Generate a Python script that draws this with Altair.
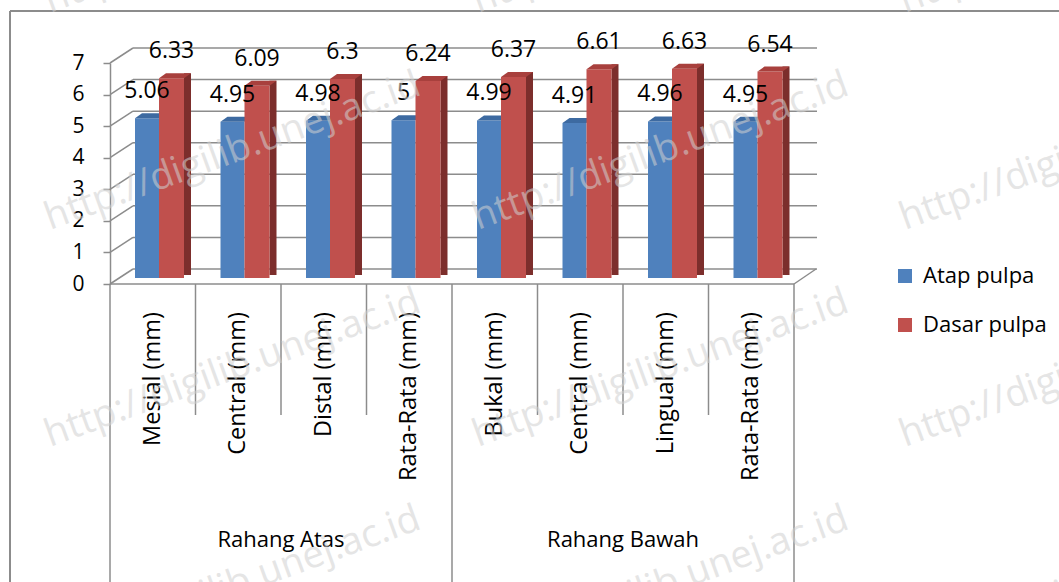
import altair as alt
import pandas as pd

# ---------------- data ----------------
categories = ["Mesial (mm)", "Central (mm)", "Distal (mm)", "Rata-Rata (mm)",
              "Bukal (mm)", "Central (mm)", "Lingual (mm)", "Rata-Rata (mm)"]
groups = ["Rahang Atas"] * 4 + ["Rahang Bawah"] * 4
atap_pulpa = [5.06, 4.95, 4.98, 5, 4.99, 4.91, 4.96, 4.95]
dasar_pulpa = [6.33, 6.09, 6.3, 6.24, 6.37, 6.61, 6.63, 6.54]
series_names = ["Atap pulpa", "Dasar pulpa"]
y_ticks = [0, 1, 2, 3, 4, 5, 6, 7]
watermark = "http://digilib.unej.ac.id"

# ---------------- style ----------------
FONT = "Open Sans"
GRID = "#8c8c8c"
BLUE, BLUE_TOP = "#4f81bd", "#3d6aa1"
RED, RED_TOP, RED_SIDE = "#c0504d", "#a8403d", "#7c2e2c"
W, H = 684, 221
DX, DY = 23, -15          # 3-D depth of the walls
BAR_LIFT = -6              # bars stand a bit behind the front edge

# ---------------- tables ----------------
n = len(categories)
rows = []
for i in range(n):
    rows.append({"idx": i, "series": series_names[0], "value": atap_pulpa[i], "zero": 0,
                 "label": f"{atap_pulpa[i]:g}"})
    rows.append({"idx": i, "series": series_names[1], "value": dasar_pulpa[i], "zero": 0,
                 "label": f"{dasar_pulpa[i]:g}"})
df = pd.DataFrame(rows)
cat_df = pd.DataFrame({"pos": [i + 0.5 for i in range(n)], "cat": categories})
grid_df = pd.DataFrame({"v": y_ticks, "x0": 0, "x1": n})

bounds = list(range(n + 1))
outer = [b for b in bounds if b == 0 or b == n or groups[b] != groups[b - 1]]
inner = [b for b in bounds if b not in outer]
grp_names = list(dict.fromkeys(groups))
grp_df = pd.DataFrame({
    "grp": grp_names,
    "pos": [sum(i + 0.5 for i in range(n) if groups[i] == g) / groups.count(g) for g in grp_names],
})

xs = alt.Scale(domain=[0, n], nice=False, zero=False)
ys = alt.Scale(domain=[0, 7], nice=False)
X = lambda f: alt.X(f, type="quantitative", scale=xs, axis=None)
yaxis = alt.Axis(values=y_ticks, title=None, grid=False, tickSize=7, tickColor=GRID,
                 tickWidth=1.5, domainColor=GRID, domainWidth=1.5, labelFontSize=21,
                 labelFont=FONT, labelColor="#000000", labelPadding=19)
Y = lambda f: alt.Y(f, type="quantitative", scale=ys, axis=yaxis)
color = alt.Color("series:N", scale=alt.Scale(domain=series_names, range=[BLUE, RED]),
                  legend=alt.Legend(title=None, orient="none", legendX=784, legendY=202,
                                    symbolType="square", symbolSize=196, symbolStrokeWidth=0,
                                    labelFontSize=22, labelFont=FONT, labelColor="#000000",
                                    rowPadding=27, labelOffset=7, padding=0))

layers = []
# back wall gridlines
layers.append(alt.Chart(grid_df).mark_rule(color=GRID, strokeWidth=1.5, xOffset=DX, x2Offset=DX,
                                           yOffset=DY, y2Offset=DY)
              .encode(x=X("x0"), x2="x1", y=Y("v"), y2="v"))
# left wall diagonals
layers.append(alt.Chart(grid_df).mark_rule(color=GRID, strokeWidth=1.5, x2Offset=DX, y2Offset=DY)
              .encode(x=X("x0"), x2="x0", y=Y("v"), y2="v"))
floor = alt.Chart(grid_df).transform_filter("datum.v == 0")
layers.append(floor.mark_rule(color=GRID, strokeWidth=1.5).encode(x=X("x0"), x2="x1", y=Y("v")))
layers.append(floor.mark_rule(color=GRID, strokeWidth=1.5, x2Offset=DX - 1, y2Offset=DY)
              .encode(x=X("x1"), x2="x1", y=Y("v"), y2="v"))
# category dividers
layers.append(alt.Chart(pd.DataFrame({"b": inner})).mark_rule(color=GRID, strokeWidth=1.5)
              .encode(x=X("b"), y=alt.value(H), y2=alt.value(352)))
layers.append(alt.Chart(pd.DataFrame({"b": outer})).mark_rule(color=GRID, strokeWidth=1.5)
              .encode(x=X("b"), y=alt.value(H), y2=alt.value(520)))

# bars
blue = alt.Chart(df).transform_filter(alt.datum.series == series_names[0])
red = alt.Chart(df).transform_filter(alt.datum.series == series_names[1])
layers.append(blue.mark_rect(xOffset=25, x2Offset=49, yOffset=BAR_LIFT, y2Offset=BAR_LIFT)
              .encode(x=X("idx"), x2="idx", y=Y("value"), y2="zero", color=color))
layers.append(blue.mark_point(shape="M0,0L24,0L31,-5L7,-5Z", size=4, filled=True, opacity=1,
                              strokeWidth=0, color=BLUE_TOP, xOffset=25, yOffset=BAR_LIFT)
              .encode(x=X("idx"), y=Y("value")))
layers.append(red.mark_rect(color=RED_SIDE, xOffset=74, x2Offset=81, yOffset=BAR_LIFT - 5,
                            y2Offset=BAR_LIFT - 3)
              .encode(x=X("idx"), x2="idx", y=Y("value"), y2="zero"))
layers.append(red.mark_rect(xOffset=49, x2Offset=74, yOffset=BAR_LIFT, y2Offset=BAR_LIFT)
              .encode(x=X("idx"), x2="idx", y=Y("value"), y2="zero", color=color))
layers.append(red.mark_point(shape="M0,0L25,0L32,-5L7,-5Z", size=4, filled=True, opacity=1,
                             strokeWidth=0, color=RED_TOP, xOffset=49, yOffset=BAR_LIFT)
              .encode(x=X("idx"), y=Y("value")))

# data labels
for ch, xo in ((blue, 37), (red, 61.5)):
    layers.append(ch.mark_text(font=FONT, fontSize=23, color="#000000", baseline="middle",
                               xOffset=xo, yOffset=-33)
                  .encode(x=X("idx"), y=Y("value"), text="label:N"))

# category + group labels
layers.append(alt.Chart(cat_df).mark_text(font=FONT, fontSize=23.5, color="#000000", angle=270,
                                          align="right", baseline="middle")
              .encode(x=X("pos"), y=alt.value(249), text="cat:N"))
layers.append(alt.Chart(grp_df).mark_text(font=FONT, fontSize=22, color="#000000",
                                          baseline="middle")
              .encode(x=X("pos"), y=alt.value(477), text="grp:N"))

# outer frame
layers.append(alt.Chart(grid_df).mark_rule(color=GRID, strokeWidth=2)
              .encode(x=alt.value(-100), y=alt.value(-52), y2=alt.value(600)))
layers.append(alt.Chart(grid_df).mark_rule(color=GRID, strokeWidth=2)
              .encode(x=alt.value(-100), x2=alt.value(1000), y=alt.value(-52)))

# watermark
for wx in (-60, 368, 795):
    for wy in (-50, 167, 384, 601):
        layers.append(alt.Chart(grid_df.head(1)).mark_text(text=watermark, font=FONT, fontSize=38,
                                                           color="#d0d0d0", opacity=0.55,
                                                           angle=340, align="left",
                                                           baseline="alphabetic")
                      .encode(x=alt.value(wx), y=alt.value(wy)))

chart = alt.layer(*layers).properties(
    width=W, height=H,
    autosize=alt.AutoSizeParams(type="none"),
    padding={"left": 110, "top": 63, "right": 1059 - 110 - W, "bottom": 582 - 63 - H},
    background="white",
).configure_view(stroke=None)

chart.save("out.html", embed_options={"renderer": "svg", "actions": False})
